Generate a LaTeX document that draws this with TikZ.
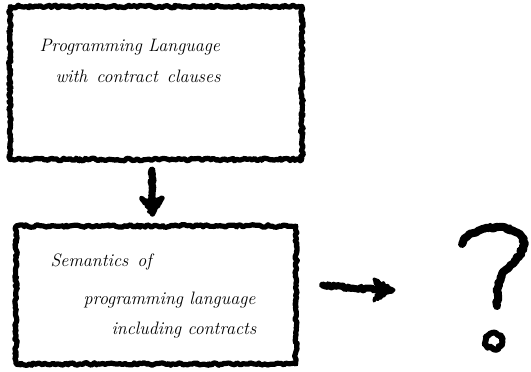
\documentclass[tikz,border=0pt]{standalone}
\usetikzlibrary{decorations.pathmorphing,calc}
\tikzset{
  x=1pt,y=-1pt,
  rough/.style={decorate,decoration={random steps,segment length=2pt,amplitude=1.3pt},line width=5.2pt,line join=round,line cap=round},
  sketchbox/.style={draw,rough,inner sep=0pt},
  hand/.style={font=\fontsize{18}{20}\selectfont\itshape,anchor=base west},
  shaft/.style={rough,line width=7pt},
  headblob/.style={fill,draw,rough,line width=3pt},
}
\begin{document}
\begin{tikzpicture}
\useasboundingbox (0,0) rectangle (531,372);
\pgfmathsetseed{7}
% boxes
\node[sketchbox,minimum width=292pt,minimum height=153pt] (box1) at (156,83) {};
\node[sketchbox,minimum width=280pt,minimum height=138pt] (box2) at (156,295) {};
% texts
\node[hand] (t1) at (36,52) {Programming Language};
\node[hand] (t2) at (52,82) {with\enspace contract\enspace clauses};
\node[hand] (t3) at (47,266) {Semantics\enspace of};
\node[hand] (t4) at (80,304) {programming language};
\node[hand] (t5) at (108,334) {including contracts};
% down arrow
\coordinate (a1) at ($(box1.south)+(-4,8)$);
\coordinate (a2) at ($(box2.north)+(-4,-8)$);
\draw[shaft] (a1) -- ($(a2)+(0,-14)$);
\fill[headblob] ($(a2)+(-11,-18)$) -- ($(a2)+(0,-13)$) -- ($(a2)+(11,-18)$) -- (a2) -- cycle;
% right arrow
\coordinate (r1) at ($(box2.east)+(24,-10)$);
\coordinate (qin) at (394,290);
\draw[shaft] (r1) -- ($(qin)+(-16,0)$);
\fill[headblob] ($(qin)+(-20,-11)$) -- ($(qin)+(-15,0)$) -- ($(qin)+(-20,11)$) -- (qin) -- cycle;
% question mark
\draw[rough,line width=8pt] (462,244) .. controls (470,226) and (510,222) .. (521,236)
  .. controls (530,250) and (512,262) .. (503,272) .. controls (497,282) and (497,295) .. (497,306);
\draw[rough,line width=6pt] (494,341) circle (8pt);
\end{tikzpicture}
\end{document}
